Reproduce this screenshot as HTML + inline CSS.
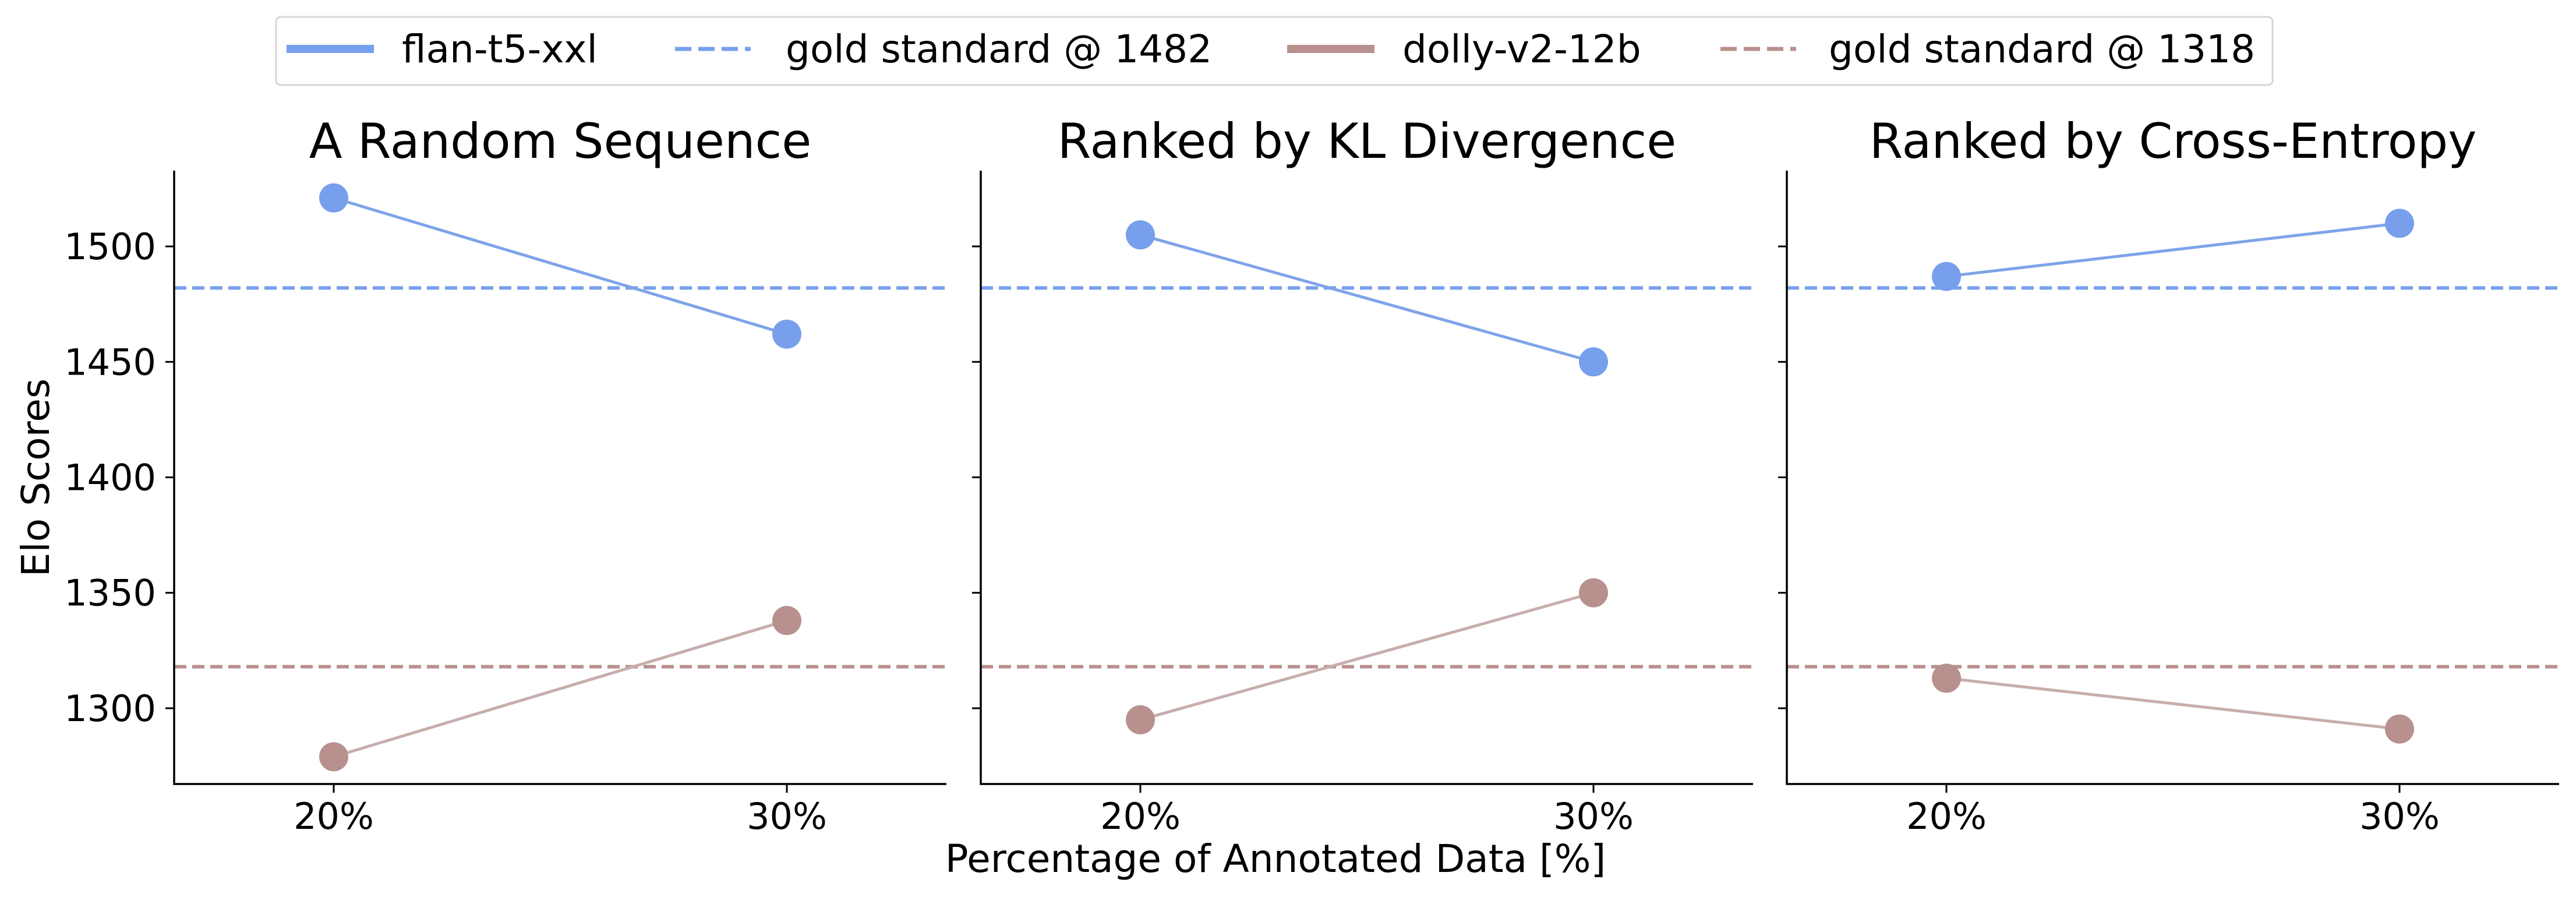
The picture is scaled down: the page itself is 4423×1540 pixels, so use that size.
<!DOCTYPE html>
<html><head><meta charset="utf-8">
<style>
html,body{margin:0;padding:0;background:#fff;}
svg{display:block;font-family:"DejaVu Sans","Liberation Sans",sans-serif;}
</style></head>
<body>
<svg id="chart" width="4423" height="1540" viewBox="0 0 4423 1540" xmlns="http://www.w3.org/2000/svg"></svg>
<script>
const panelTitles = ["A Random Sequence","Ranked by KL Divergence","Ranked by Cross-Entropy"];
const categories = ["20%","30%"];
const flanValues = [[1521,1462],[1505,1450],[1487,1510]];
const dollyValues = [[1279,1338],[1295,1350],[1313,1291]];
const goldFlan = 1482;
const goldDolly = 1318;
const yTicks = [1300,1350,1400,1450,1500];

const NS="http://www.w3.org/2000/svg";
const svg=document.getElementById('chart');
function mk(tag,attrs,parent){const e=document.createElementNS(NS,tag);for(const k in attrs)e.setAttribute(k,attrs[k]);(parent||svg).appendChild(e);return e;}
const BLUE="#779fec", BLUEL="#7ea3ea", BROWN="#b8908d", BROWNL="#c8adad";
const panelLeft=[299,1684,3068], panelW=1326, axTop=293, axBottom=1346;
const yMin=1267.2, yMax=1532.8;
function yScale(v){return axBottom-(v-yMin)/(yMax-yMin)*(axBottom-axTop);}
function xScale(p,i){return panelLeft[p]+274+i*778;}

for(let p=0;p<3;p++){
  const g=mk('g',{});
  
  
  const L=panelLeft[p];
  const t=mk('text',{x:L+panelW/2,y:271,'font-size':83,'text-anchor':'middle',fill:'#000'},g);
  t.textContent=panelTitles[p];
  
  
  [[goldFlan,BLUE],[goldDolly,BROWN]].forEach(([v,c],k)=>{
    const l=mk('line',{x1:L,x2:L+panelW,y1:yScale(v),y2:yScale(v),stroke:c,'stroke-width':6,'stroke-dasharray':'21 10'},g);
    
    
  });
  [[flanValues[p],BLUEL,BLUE,'flan'],[dollyValues[p],BROWNL,BROWN,'dolly']].forEach(([vals,lc,mc,nm])=>{
    const ln=mk('line',{x1:xScale(p,0),y1:yScale(vals[0]),x2:xScale(p,1),y2:yScale(vals[1]),stroke:lc,'stroke-width':5},g);
    
    
    vals.forEach((v,i)=>{
      const c=mk('circle',{cx:xScale(p,i),cy:yScale(v),r:25,fill:mc},g);
      
      
    });
  });
  const ax=mk('path',{d:`M${L},${axTop} L${L},${axBottom} L${L+panelW},${axBottom}`,fill:'none',stroke:'#000','stroke-width':3.5},g);
  
  
  yTicks.forEach(v=>{
    mk('line',{x1:L-15,x2:L,y1:yScale(v),y2:yScale(v),stroke:'#000','stroke-width':3},g);
    if(p==0){
      const tt=mk('text',{x:L-31,y:yScale(v)+22,'font-size':62,'text-anchor':'end',fill:'#000'},g);
      tt.textContent=v;
      
      
    }
  });
  categories.forEach((c,i)=>{
    mk('line',{x1:xScale(p,i),x2:xScale(p,i),y1:axBottom,y2:axBottom+15,stroke:'#000','stroke-width':3},g);
    const tt=mk('text',{x:xScale(p,i),y:1423,'font-size':62,'text-anchor':'middle',fill:'#000'},g);
    tt.textContent=c;
    
    
  });
}
const yl=mk('text',{x:0,y:0,'font-size':66,'text-anchor':'middle',transform:'translate(84,820) rotate(-90)',fill:'#000'});
yl.textContent="Elo Scores";


const xl=mk('text',{x:2190,y:1497,'font-size':66,'text-anchor':'middle',fill:'#000'});
xl.textContent="Percentage of Annotated Data [%]";



const lg=mk('g',{});


mk('rect',{x:474,y:29,width:3428,height:117,rx:8,fill:'#fff',stroke:'#d6d6d6','stroke-width':3},lg);
const entries=[["flan-t5-xxl",BLUE,false,492,690],["gold standard @ 1482",BLUE,true,1159,1349],["dolly-v2-12b",BROWN,false,2210,2408],["gold standard @ 1318",BROWN,true,2954,3140]];
entries.forEach(([lab,c,d,lx,tx])=>{
  const e=mk('g',{},lg);
  
  
  const a={x1:lx,x2:lx+(d?130:150),y1:84,y2:84,stroke:c,'stroke-width':d?7:14};
  if(d)a['stroke-dasharray']='28 12';
  mk('line',a,e);
  const t=mk('text',{x:tx,y:107,'font-size':66,fill:'#000'},e);
  t.textContent=lab;
});
</script>
</body></html>
